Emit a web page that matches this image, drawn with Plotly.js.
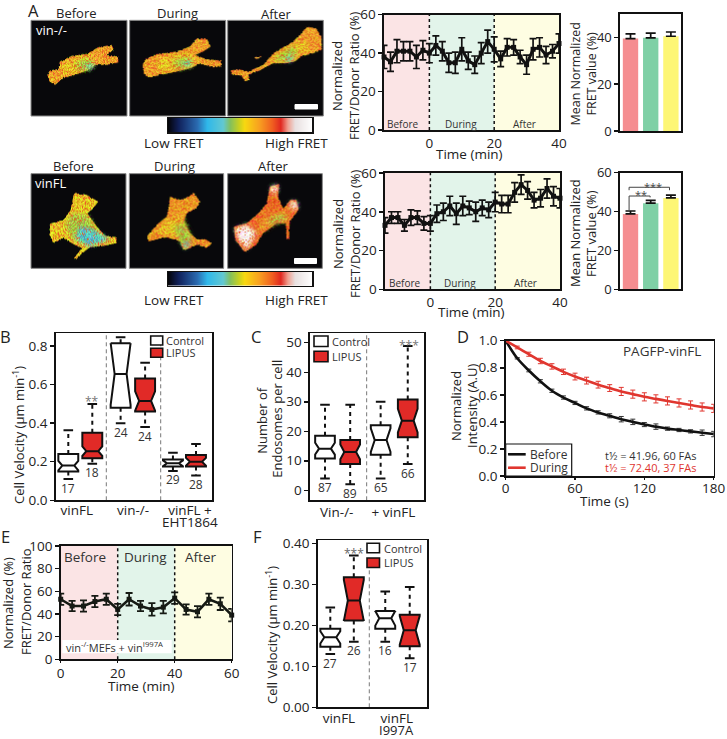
<!DOCTYPE html>
<html><head><meta charset="utf-8">
<script src="https://cdn.plot.ly/plotly-3.0.1.min.js"></script>
<style>html,body{margin:0;padding:0;background:#fff}#p{width:727px;height:739px}</style>
</head><body><div id="p"></div>
<script>
// ---------- DATA ----------
const timeA = [-14,-12,-10,-8,-6,-4,-2,0,2,4,6,8,10,12,14,16,18,20,22,24,26,28,30,32,34,36,38,40];
const vinKoFret = [38,35.5,41,41,41,38,41.5,40,44,41,35,35,42,36,34,40,46,42,37,43,43,38,34,42,43,39,41,45];
const vinKoErr  = [6,5,6,5,5,6,5,5,5,5,5,5.5,6,4.5,4.5,5.5,6,6.5,4,4.5,4,3.5,5,5.5,5,4.5,3.5,5];
const vinFlFret = [33,37,37,33,37,37,34,34,39,40,43,39,43,42,40,42,41,45,44,44,50,54,51,46,47,52,48,47];
const vinFlErr  = [4,3,3,3,4,3.5,3.5,4,4.5,4.5,5,5.5,5,3.5,5,4,4,5,4.5,4.5,5,5,4.5,4,4.5,5,5,5];
const phases = ['Before','During','After'];
const koMean = [39.5,39.8,40.5], koMeanErr = [2,2,1.8];
const flMean = [38.8,44.3,47], flMeanErr = [1.5,1.5,1.5];

const bLabels=['vinFL','vin-/-','vinFL +'];
const bCtrl={q1:[.149,.48,.175],med:[.18,.655,.192],q3:[.24,.814,.212],lo:[.11,.40,.152],hi:[.363,.845,.247],notch:[.025,.16,.015],n:['17','24','29']};
const bLipus={q1:[.218,.46,.175],med:[.255,.515,.2],q3:[.35,.632,.235],lo:[.19,.38,.128],hi:[.50,.713,.292],notch:[.025,.05,.02],n:['18','24','28']};

const cLabels=['Vin-/-','+ vinFL'];
const cCtrl={q1:[10.8,12],med:[14.1,17],q3:[18.5,22],lo:[4,4],hi:[29,30],notch:[2,4],n:['87','65']};
const cLipus={q1:[8.9,18],med:[13,23.6],q3:[17,30.8],lo:[2,8.9],hi:[29,48.9],notch:[2.5,4],n:['89','66']};

const dTime=[0,10,20,30,40,50,60,70,80,90,100,110,120,130,140,150,160,170,180];
const dBefore=[1,.87,.78,.70,.63,.58,.54,.50,.47,.445,.42,.40,.38,.365,.35,.34,.33,.32,.31];
const dBeforeErr=[0,.005,.01,.012,.012,.012,.012,.012,.012,.015,.02,.02,.015,.02,.012,.012,.012,.02,.02];
const dDuring=[1,.95,.90,.85,.81,.77,.735,.705,.675,.65,.625,.605,.585,.57,.555,.54,.525,.51,.50];
const dDuringErr=[0,.01,.015,.02,.02,.02,.025,.025,.025,.025,.03,.03,.03,.03,.03,.03,.03,.03,.03];

const timeE=[0,4,8,12,16,20,24,28,32,36,40,44,48,52,56,60];
const fretE=[53,47,47,51,53,44,53,47,44,46,54,44,42,53,49,39];
const errE =[5,4.5,5,5,5,5,5.5,4.5,5.5,5.5,5,4.5,5,5,5.5,5.5];

const fLabels=['vinFL','vinFL'];
const fCtrl={q1:[.148,.192],med:[.171,.2175],q3:[.192,.235],lo:[.13,.16],hi:[.244,.283],notch:[.015,.018],n:['27','16']};
const fLipus={q1:[.212,.149],med:[.261,.188],q3:[.318,.226],lo:[.16,.12],hi:[.371,.294],notch:[.05,.035],n:['26','17']};

// ---------- STYLE / LAYOUT ----------
const W=727,H=739, FONT='"Open Sans", sans-serif', INK='#222', RED='#e12a27';
const PINK='#fbe4e5', MINT='#e2f4ea', CREAM='#fefde2';
const BAR=['#f58d90','#7fd0a6','#fdf675'];
const colorPos=[0,.07,.2,.27,.38,.43,.49,.53,.63,.72,.78,.83,.88,1];
const colorHex=['#05050a','#10205a','#2a6ab0','#2fb8ea','#62c8d2','#84c05c','#c8d020','#f8d810','#f8a020','#f06020','#e02820','#f0a090','#e8e0e0','#ffffff'];

const P=x=>x/W, Q=y=>1-y/H;
const layout={width:W,height:H,margin:{l:0,r:0,t:0,b:0},paper_bgcolor:'#fff',plot_bgcolor:'rgba(0,0,0,0)',showlegend:false,
  font:{family:FONT,size:13,color:INK},shapes:[],annotations:[],images:[],boxmode:'overlay',hovermode:false};
const traces=[];
let axN=0;
function addAxes(l,r,t,b,xr,yr,xo,yo){
  axN++; const s=axN===1?'':axN;
  const base={showgrid:false,zeroline:false,showline:true,mirror:true,linecolor:'#111',linewidth:1.6,tickcolor:'#111',tickwidth:1.5,
    tickfont:{family:FONT,size:13.5,color:INK},automargin:false,fixedrange:true};
  layout['xaxis'+s]=Object.assign({},base,{domain:[P(l),P(r)],range:xr,anchor:'y'+s,ticks:'',ticklen:3},xo||{});
  layout['yaxis'+s]=Object.assign({},base,{domain:[Q(b),Q(t)],range:yr,anchor:'x'+s,ticks:'outside',ticklen:4},yo||{});
  return {x:'x'+s,y:'y'+s};
}
function txt(text,x,y,size,color,o){
  layout.annotations.push(Object.assign({text:text,xref:'paper',yref:'paper',x:P(x),y:Q(y),xanchor:'center',yanchor:'middle',showarrow:false,
    font:{family:FONT,size:size||13,color:color||INK}},o||{}));
}
function ytitle(text,x,y,size){ txt(text,x,y,size||13,INK,{textangle:-90}); }
function rect(x0,y0,x1,y1,fill,line,lw){
  layout.shapes.push({type:'rect',xref:'paper',yref:'paper',x0:P(x0),x1:P(x1),y0:Q(y0),y1:Q(y1),fillcolor:fill,line:{color:line||fill,width:lw===undefined?1:lw},layer:'above'});
}
function seg(ax,x0,y0,x1,y1,color,w,dash,layer){
  layout.shapes.push({type:'line',xref:ax.x,yref:ax.y,x0,x1,y0,y1,line:{color,width:w,dash:dash||'solid'},layer:layer||'above'});
}
function band(ax,x0,x1,y0,y1,color){
  layout.shapes.push({type:'rect',xref:ax.x,yref:ax.y,x0,x1,y0,y1,fillcolor:color,line:{width:0},layer:'below'});
}

// ---- Panel A microscopy cells (drawn once on a canvas and placed as images) ----
const ORANGE='#f0a42c',YEL='#e8c828',GRN='#abc846',TEAL='#5cc4c8',HOT='#ea6a24',WHT='#fdf8f4';
const cellPanels=[
 {box:[93,61,381,348],layers:[
  [ORANGE,[142,225,150,212,175,208,180,185,215,168,260,162,295,142,335,135,342,150,320,165,355,170,355,188,320,195,285,195,265,210,225,225,190,235,165,255,148,245]],
  [YEL,[185,195,230,175,265,168,285,195,262,208,220,218,190,225]],
  [GRN,[225,190,260,175,280,190,270,208,235,212]],
  [TEAL,[255,197,285,190,270,210]]]},
 {box:[389,61,677,348],layers:[
  [ORANGE,[428,195,435,178,470,162,530,155,570,140,590,115,620,115,632,140,610,155,585,165,620,178,665,182,665,200,640,203,600,192,570,205,520,218,480,225,445,235,430,220]],
  [YEL,[470,180,540,165,590,170,575,200,510,212,470,215]],
  [GRN,[520,180,565,172,580,190,555,205,525,205]],
  [TEAL,[545,190,572,180,570,200]]]},
 {box:[683,61,970,348],layers:[
  [ORANGE,[905,100,920,80,950,85,965,110,967,150,940,160,905,170,885,185,860,190,820,190,780,212,745,225,750,240,735,245,725,228,695,225,692,212,715,208,745,215,790,195,820,160,880,125]],
  [ORANGE,[762,172,785,168,780,175,765,177]],
  [YEL,[830,165,885,135,915,120,925,150,895,165,860,180,820,185]],
  [GRN,[830,170,880,140,895,160,870,178,825,185]],
  [TEAL,[855,175,880,165,875,185,860,185]]]},
 {box:[93,521,378,805],layers:[
  [YEL,[222,578,260,585,295,605,280,625,262,640,290,680,315,708,350,712,350,730,315,738,270,742,245,762,228,780,222,775,245,745,215,730,190,715,160,730,148,705,150,672,190,660,212,630]],
  [GRN,[215,640,262,645,300,710,280,735,220,720,195,680]],
  [TEAL,[240,680,280,690,330,720,265,740,225,715]]]},
 {box:[388,521,671,805],layers:[
  ['#ee9a28',[510,590,540,600,565,590,580,578,600,605,590,625,560,640,550,665,570,700,590,718,615,718,635,730,620,745,590,735,570,745,550,752,540,725,500,712,445,725,440,710,470,675,500,650]],
  [YEL,[500,660,550,650,560,700,530,710,470,700]],
  [GRN,[520,680,555,670,575,715,550,740,535,715]],
  [TEAL,[545,730,575,725,555,748]]]},
 {box:[683,521,967,805],layers:[
  [HOT,[810,560,838,552,835,590,850,625,872,600,890,600,897,630,870,665,868,720,860,718,858,670,830,670,790,700,770,735,735,758,705,720,702,680,740,670,775,640,800,610]],
  ['#eda030',[770,680,800,650,860,635,865,665,830,668,790,695]],
  [GRN,[810,655,850,645,862,655,840,666,810,675]],
  [WHT,[705,685,740,675,770,700,740,750,715,720]],
  [WHT,[812,560,835,555,830,582,815,580]],
  [WHT,[870,605,890,605,895,625,875,630]]]}
];
const hashNoise=(x,y)=>{const v=Math.sin(x*12.9898+y*78.233)*43758.5453;return v-Math.floor(v);};
function cellImage(cp){
  const [zl,zt,zr,zb]=cp.box,w=Math.round((zr-zl)/3),h=Math.round((zb-zt)/3);
  const c=document.createElement('canvas');c.width=w;c.height=h;const g=c.getContext('2d');
  g.fillStyle='#08080b';g.fillRect(0,0,w,h);
  g.setTransform(1/3,0,0,1/3,-zl/3,-zt/3);
  const poly=pts=>{g.beginPath();for(let i=0;i<pts.length;i+=2){i?g.lineTo(pts[i],pts[i+1]):g.moveTo(pts[i],pts[i+1]);}g.closePath();};
  cp.layers.forEach((ly,i)=>{
    const isOutline=i===0||(ly[0]===ORANGE&&ly[1].length===8);
    g.filter=isOutline?'none':'blur(2px)';
    poly(ly[1]);g.fillStyle=ly[0];g.fill();
  });
  g.filter='none';g.setTransform(1,0,0,1,0,0);
  const im=g.getImageData(0,0,w,h),d=im.data;
  const dark=(x,y)=>{if(x<0||y<0||x>=w||y>=h)return true;const i=(y*w+x)*4;return d[i]<20&&d[i+1]<20;};
  const edge=[];
  for(let y=0;y<h;y++)for(let x=0;x<w;x++){
    if(!dark(x,y)&&(dark(x-1,y)||dark(x+1,y)||dark(x,y-1)||dark(x,y+1))&&hashNoise(x,y)<.4)edge.push((y*w+x)*4);
  }
  for(let y=0;y<h;y++)for(let x=0;x<w;x++){
    const i=(y*w+x)*4; if(d[i]<20&&d[i+1]<20)continue;
    const n=hashNoise(x+.5,y+.25),m=hashNoise(y+3.1,x+7.7);
    if(n>.86&&d[i+1]>120){d[i]=232;d[i+1]=96;d[i+2]=36;continue;}
    d[i]=Math.min(255,d[i]+(n-.5)*40);
    d[i+1]=Math.max(0,Math.min(255,d[i+1]+(m-.5)*110));
    d[i+2]=Math.max(0,Math.min(255,d[i+2]+(n-.5)*50));
  }
  edge.forEach(i=>{d[i]=8;d[i+1]=8;d[i+2]=11;});
  g.putImageData(im,0,0);
  return {src:c.toDataURL('image/png'),l:zl/3,t:zt/3,r:zr/3,b:zb/3};
}
cellPanels.forEach(cp=>{
  const m=cellImage(cp);
  layout.images.push({source:m.src,xref:'paper',yref:'paper',x:P(m.l),y:Q(m.t),sizex:(m.r-m.l)/W,sizey:(m.b-m.t)/H,xanchor:'left',yanchor:'top',sizing:'stretch',layer:'below'});
  layout.shapes.push({type:'rect',xref:'paper',yref:'paper',x0:P(m.l),x1:P(m.r),y0:Q(m.t),y1:Q(m.b),line:{color:'#8a8a8a',width:1},layer:'above'});
});
rect(295,104.5,317.5,109,'#fff');rect(294.5,258.5,316.5,263.5,'#fff');

txt('A',33,10.5,16.5);
[[76,13],[177,13],[276,13.5]].forEach((p,i)=>txt(phases[i],p[0],p[1],13));
[[73,166],[174,166],[273,166]].forEach((p,i)=>txt(phases[i],p[0],p[1],13));
txt('vin-/-',34,30,13,'#fff',{xanchor:'left'});
txt('vinFL',33,183,13,'#fff',{xanchor:'left'});

// colour bars
const ramp=Array.from({length:145},(_,i)=>i/144);
const scale=colorPos.map((p,i)=>[p,colorHex[i]]);
[[118,132.3],[271.7,285.7]].forEach(r=>{
  const a=addAxes(167.7,312.3,r[0],r[1],[-.5,144.5],[-.5,.5],{showticklabels:false},{showticklabels:false,ticks:''});
  traces.push({type:'heatmap',z:[ramp],zmin:0,zmax:1,colorscale:scale,showscale:false,hoverinfo:'skip',xaxis:a.x,yaxis:a.y});
  layout[a.x.replace('x','xaxis')].linewidth=1.2;layout[a.y.replace('y','yaxis')].linewidth=1.2;
});
txt('Low FRET',174,142.7,13.5);txt('High FRET',296.7,142.7,13.5);
txt('Low FRET',174,300,13.5);txt('High FRET',296.7,300,13.5);

// line panels A
function linePanel(l,r,t,b,y,err){
  const a=addAxes(l,r,t,b,[-14,40],[0,60],{tickvals:[0,20,40]},{tickvals:[0,20,40,60]});
  band(a,-14,0,0,60,PINK);band(a,0,20,0,60,MINT);band(a,20,40,0,60,CREAM);
  seg(a,0,0,0,60,'#111',1.5,'dot');seg(a,20,0,20,60,'#111',1.5,'dot');
  traces.push({type:'scatter',mode:'lines+markers',x:timeA,y,xaxis:a.x,yaxis:a.y,cliponaxis:false,line:{color:'#111',width:3},marker:{color:'#111',size:5,symbol:'square'},
    error_y:{type:'data',array:err,visible:true,color:'#111',thickness:1.7,width:3.5}});
  return a;
}
linePanel(384,559,14.7,130,vinKoFret,vinKoErr);
linePanel(385,560,173,289.3,vinFlFret,vinFlErr);
ytitle('Normalized',337,76,13);ytitle('FRET/Donor Ratio (%)',354,76,13);
ytitle('Normalized',338,234,13);ytitle('FRET/Donor Ratio (%)',355,234,13);
txt('Time (min)',469,154,13.5);txt('Time (min)',471.7,311.7,13.5);
[403,461,524].forEach((x,i)=>txt(phases[i],x,124,10,'#333'));
[405,460,525].forEach((x,i)=>txt(phases[i],x,283,10,'#333'));

// bar panels A
function barPanel(t,b,ymax,ticks,vals,errs){
  const a=addAxes(620,681,t,b,[-.52,2.5],[0,ymax],{tickvals:[],showticklabels:false},{tickvals:ticks,tickfont:{family:FONT,size:13,color:INK}});
  traces.push({type:'bar',x:[0,1,2],y:vals,width:.76,xaxis:a.x,yaxis:a.y,marker:{color:BAR,line:{width:0}},
    error_y:{type:'data',symmetric:false,array:errs,arrayminus:[0,0,0],visible:true,color:'#111',thickness:1.7,width:5}});
  return a;
}
barPanel(14,131,50,[0,20,40],koMean,koMeanErr);
const af=barPanel(172.7,289.3,60,[0,20,40,60],flMean,flMeanErr);
ytitle('Mean Normalized',574.5,74,12.5);ytitle('FRET value (%)',590.5,74,12.5);
ytitle('Mean Normalized',574.5,233.5,13);ytitle('FRET value (%)',590.5,233.5,13);
seg(af,-.07,48,-.07,40.8,'#444',1);seg(af,-.07,48,.97,48,'#444',1);seg(af,.97,48,.97,47.3,'#444',1);
seg(af,-.07,52.5,1.93,52.5,'#444',1);seg(af,-.07,52.5,-.07,51,'#444',1);seg(af,1.93,52.5,1.93,51,'#444',1);
txt('**',641,195,11,'#444');txt('***',653,186,11,'#444');

// notched boxes
function boxes(ax,pos,group,fill,width){
  const xp=[],yp=[],xc=[],yc=[],cap=.2;
  pos.forEach((p,i)=>{
    xp.push(p,p,null,p,p,null);yp.push(group.q3[i],group.hi[i],null,group.q1[i],group.lo[i],null);
    xc.push(p-cap,p+cap,null,p-cap,p+cap,null);yc.push(group.hi[i],group.hi[i],null,group.lo[i],group.lo[i],null);
    layout.annotations.push({text:group.n[i],xref:ax.x,yref:ax.y,x:p,y:group.lo[i],yshift:-9,yanchor:'middle',xanchor:'center',showarrow:false,font:{family:FONT,size:12,color:'#333'}});
  });
  traces.push({type:'scatter',mode:'lines',x:xp,y:yp,xaxis:ax.x,yaxis:ax.y,line:{color:'#111',width:2,dash:'4px,4px'}});
  traces.push({type:'scatter',mode:'lines',x:xc,y:yc,xaxis:ax.x,yaxis:ax.y,line:{color:'#111',width:2}});
  traces.push({type:'box',x:pos,q1:group.q1,median:group.med,q3:group.q3,lowerfence:group.q1,upperfence:group.q3,notchspan:group.notch,notched:true,notchwidth:.2,
    width:width||.83,boxpoints:false,whiskerwidth:0,fillcolor:fill,line:{color:'#111',width:2},xaxis:ax.x,yaxis:ax.y});
}
function legendBox(x0,y1,y2,w,h,tx){
  rect(x0,y1,x0+w,y1+h,'#fff','#111',1.6);rect(x0,y2,x0+w,y2+h,RED,'#111',1.6);
  txt('Control',tx,y1+h/2,11,'#333',{xanchor:'left'});txt('LIPUS',tx,y2+h/2,11,'#333',{xanchor:'left'});
}

// B
const ab=addAxes(55.7,212.3,333.3,500.3,[.475,7],[0,.866],
  {tickvals:[1.35,3.7,6.07],ticktext:bLabels,ticklabelstandoff:-3},
  {tickvals:[0,.2,.4,.6,.8],tickformat:'.1f'});
[106.3,160.7].forEach(px=>{const xv=1+(px-68.3)/24;seg(ab,xv,0,xv,.866,'#777',1,'4px,3px','below');});
boxes(ab,[1,3.18,5.36],bCtrl,'#fff');
boxes(ab,[2,4.2,6.32],bLipus,RED);
legendBox(150.7,336,348.3,12,9,164.3);
txt('**',92.5,402,12,'#777');
txt('EHT1864',190,522,13.5);
ytitle('Cell Velocity (μm min<sup>-1</sup>)',19,435,13);
txt('B',6,337,16.5);

// C
const ac=addAxes(310,424.3,333.3,500.3,[.375,5.14],[-3.4,53.2],
  {tickvals:[1.49,3.85],ticktext:cLabels,ticklabelstandoff:-1},
  {tickvals:[0,10,20,30,40,50]});
{const xv=1+(366.7-325)/24;seg(ac,xv,-3.4,xv,53.2,'#777',1,'4px,3px','below');}
boxes(ac,[1,3.32],cCtrl,'#fff',.82);
boxes(ac,[2.05,4.45],cLipus,RED,.82);
legendBox(314,336,351.3,14,10.5,330);
txt('***',409,345,12,'#777');
ytitle('Number of',262,420.7,13);ytitle('Endosomes per cell',277,418.7,13);
txt('C',256,336,16.5);

// D
const ad=addAxes(505.7,713.7,340.7,476,[0,180],[0,1],
  {tickvals:[0,60,120,180],ticks:'outside',ticklen:2,ticklabelstandoff:-3},
  {tickvals:[0,.2,.4,.6,.8,1],tickformat:'.1f'});
traces.push({type:'scatter',mode:'lines',x:dTime,y:dBefore,xaxis:ad.x,yaxis:ad.y,cliponaxis:false,line:{color:'#111',width:2.6,shape:'spline'},
  error_y:{type:'data',array:dBeforeErr,visible:true,color:'#333',thickness:1,width:2.5}});
traces.push({type:'scatter',mode:'lines',x:dTime,y:dDuring,xaxis:ad.x,yaxis:ad.y,cliponaxis:false,line:{color:'#e0362f',width:2.6,shape:'spline'},
  error_y:{type:'data',array:dDuringErr,visible:true,color:'#e0362f',thickness:1,width:2.5}});
rect(505.7,444,571.7,476,'#fff','#111',1.2);
layout.shapes.push({type:'line',xref:'paper',yref:'paper',x0:P(508),x1:P(525.7),y0:Q(454.3),y1:Q(454.3),line:{color:'#111',width:2.6}});
layout.shapes.push({type:'line',xref:'paper',yref:'paper',x0:P(508),x1:P(525.7),y0:Q(467.7),y1:Q(467.7),line:{color:'#e0362f',width:2.6}});
txt('Before',527.7,454.3,12,'#333',{xanchor:'left'});
txt('During',527.7,467.7,12,'#333',{xanchor:'left'});
txt('PAGFP-vinFL',662,350.7,13.5,'#333');
txt('t½ = 41.96, 60 FAs',650,455,11,'#333');
txt('t½ = 72.40, 37 FAs',650,467.7,11,'#e0362f');
txt('Time (s)',604,501,13.5);
ytitle('Normalized',456,406,13);ytitle('Intensity (A.U)',472,406,13);
txt('D',463,336,16.5);

// E
const ae=addAxes(60.7,231.7,546,659.3,[0,60],[0,100],
  {tickvals:[0,20,40,60],ticks:'outside',ticklen:2,ticklabelstandoff:-1},
  {tickvals:[0,20,40,60,80,100]});
band(ae,0,20,0,100,PINK);band(ae,20,40,0,100,MINT);band(ae,40,60,0,100,CREAM);
seg(ae,20,0,20,100,'#111',1.5,'dot');seg(ae,40,0,40,100,'#111',1.5,'dot');
traces.push({type:'scatter',mode:'lines+markers',x:timeE,y:fretE,xaxis:ae.x,yaxis:ae.y,cliponaxis:false,line:{color:'#161a14',width:2.6},marker:{color:'#161a14',size:5,symbol:'square'},
  error_y:{type:'data',array:errE,visible:true,color:'#161a14',thickness:1.8,width:3.5}});
[85,145,200.7].forEach((x,i)=>txt(phases[i],x,556.7,13.5,'#333'));
txt('vin<sup>-/-</sup>MEFs + vin<sup>I997A</sup>',64,646.5,11,'#333',{xanchor:'left'});
layout.shapes.push({type:'rect',xref:'paper',yref:'paper',x0:P(62.3),x1:P(171.7),y0:Q(640),y1:Q(653.3),fillcolor:'#fff',line:{width:0},layer:'above'});
txt('Time (min)',141,686,13.5);
ytitle('Normalized (%)',8,603,13);ytitle('FRET/Donor Ratio',26,602,13);
txt('E',5,536,16.5);

// F
const aF=addAxes(317.7,427,540.3,707.3,[.475,5.03],[0,.408],
  {tickvals:[1.36,3.77],ticktext:fLabels,ticklabelstandoff:-2},
  {tickvals:[0,.1,.2,.3,.4],tickformat:'.2f'});
{const xv=1+(369.3-330.3)/24;seg(aF,xv,0,xv,.34,'#777',1,'4px,3px','below');}
boxes(aF,[1,3.29],fCtrl,'#fff');
boxes(aF,[1.98,4.31],fLipus,RED);
legendBox(367,543.3,558,12.5,9.5,381.5);
txt('***',353.5,553,12,'#666');
txt('I997A',396.7,730,13);
ytitle('Cell Velocity (μm min<sup>-1</sup>)',271,635,13);
txt('F',257,536,16.5);

Plotly.newPlot('p',traces,layout,{staticPlot:true,displayModeBar:false});
</script></body></html>
